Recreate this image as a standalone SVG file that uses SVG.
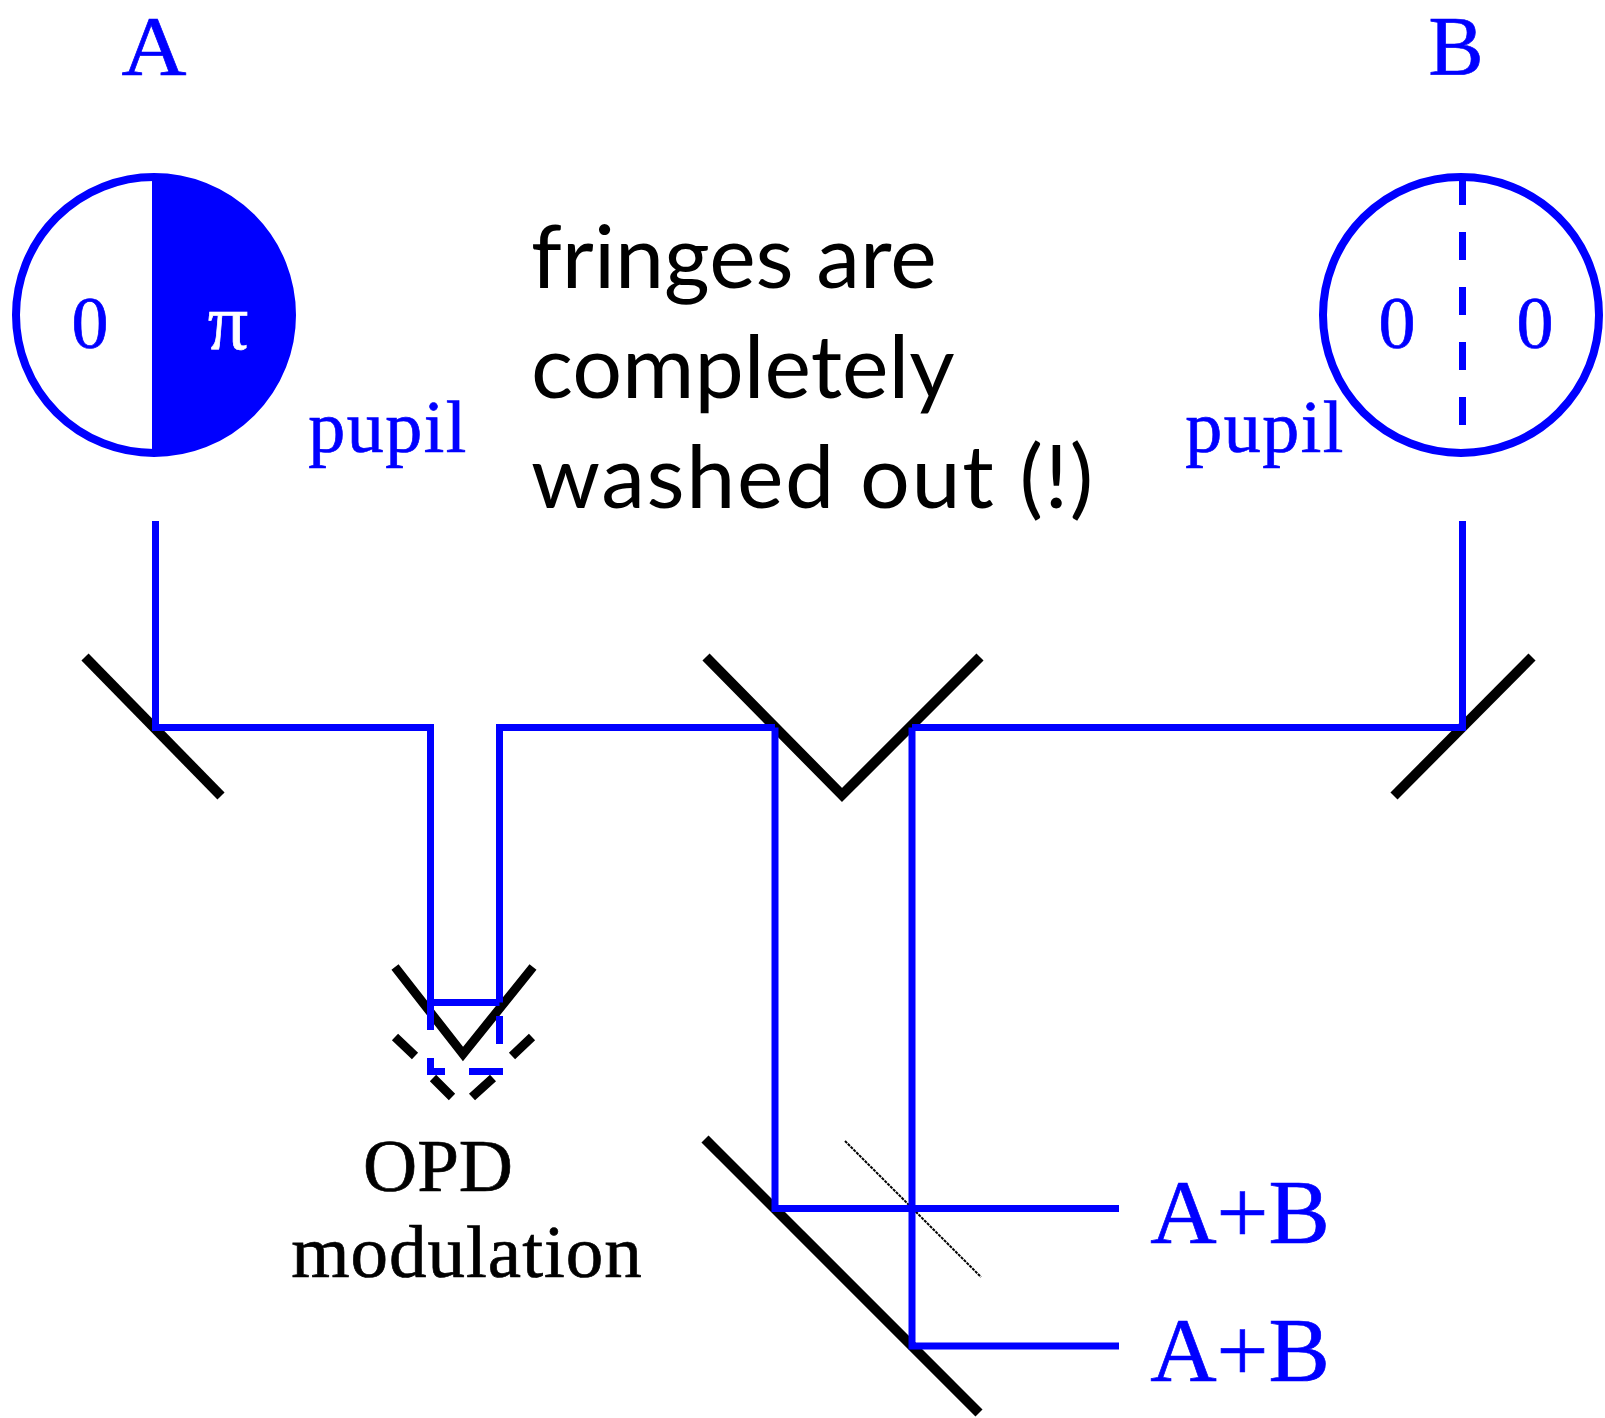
<svg xmlns="http://www.w3.org/2000/svg" width="1605" height="1418" viewBox="0 0 1605 1418">
<style>
.b{fill:none;stroke:#0000ff;stroke-width:7}
.m{fill:none;stroke:#000;stroke-width:10}
.n{fill:none;stroke:#000;stroke-width:9}
.cm{font-family:"Liberation Serif",serif;fill:#0000ff;stroke:#0000ff;stroke-width:.7}
.k{font-family:"Liberation Serif",serif;fill:#000;stroke:#000;stroke-width:.7}
.s{font-family:"Lato",sans-serif;fill:#000;font-size:88px}
</style>
<rect width="1605" height="1418" fill="#fff"/>
<g id="pupil-A">
<circle cx="154" cy="315" r="138" fill="#fff" stroke="#0000ff" stroke-width="8"/>
<path d="M152 175A140 140 0 0 1 152 455Z" fill="#0000ff"/>
<text class="cm" x="90" y="348" font-size="74" text-anchor="middle">0</text>
<text x="228" y="349" font-size="80" text-anchor="middle" font-family="Liberation Serif,serif" fill="#fff" stroke="#fff" stroke-width=".7">π</text>
<text class="cm" x="388" y="452" font-size="74" letter-spacing="1.500" text-anchor="middle">pupil</text>
<text class="cm" x="154" y="75" font-size="84" text-anchor="middle" textLength="65" lengthAdjust="spacingAndGlyphs">A</text>
</g>
<g id="pupil-B">
<circle cx="1461" cy="315" r="138" fill="#fff" stroke="#0000ff" stroke-width="8"/>
<path d="M1462.500 181V425" class="b" stroke-dasharray="28 27" stroke-dashoffset="4"/>
<text class="cm" x="1397" y="348" font-size="74" text-anchor="middle">0</text>
<text class="cm" x="1535" y="348" font-size="74" text-anchor="middle">0</text>
<text class="cm" x="1265" y="452" font-size="74" letter-spacing="1.500" text-anchor="middle">pupil</text>
<text class="cm" x="1456" y="75" font-size="84" text-anchor="middle" textLength="55" lengthAdjust="spacingAndGlyphs">B</text>
</g>
<g id="caption">
<text class="s" x="531" y="288">fringes are</text>
<text class="s" x="531" y="398">completely</text>
<text class="s" x="531" y="508" letter-spacing="1.600">washed out (!)</text>
</g>
<g id="mirrors">
<path class="m" d="M85 657L221 796"/>
<path class="m" d="M706 657L842 795L980 657"/>
<path class="m" d="M1532 657L1394 796"/>
<path class="n" d="M395 967L463 1054L533 967"/>
<path class="n" d="M395 1037L415 1056M433 1078L452 1097M532 1037L512 1056M493 1078L472 1097"/>
<path class="m" d="M705 1139L979 1413"/>
<path d="M845 1141L981 1277" fill="none" stroke="#000" stroke-width="2" stroke-dasharray="3 1"/>
</g>
<g id="connectors">
<path class="b" d="M155.500 521V727.500H430.500V1030"/>
<path class="b" d="M430.500 1002.500H499.500"/>
<path class="b" d="M499.500 1002.500V727.500H775"/>
<path class="b" d="M499.500 1016V1044"/>
<path class="b" d="M430.500 1058V1071.500H445M469 1071.500H503"/>
<path class="b" d="M775 727.500V1208.500H1119"/>
<path class="b" d="M912 727.500H1462.500V521"/>
<path class="b" d="M912 727.500V1346H1119"/>
</g>
<g id="labels">
<text class="cm" x="1240" y="1243" font-size="92" text-anchor="middle">A+B</text>
<text class="cm" x="1240" y="1381" font-size="92" text-anchor="middle">A+B</text>
<text class="k" x="438" y="1191" font-size="75" text-anchor="middle">OPD</text>
<text class="k" x="467" y="1277" font-size="75" letter-spacing="1" text-anchor="middle">modulation</text>
</g>
</svg>
